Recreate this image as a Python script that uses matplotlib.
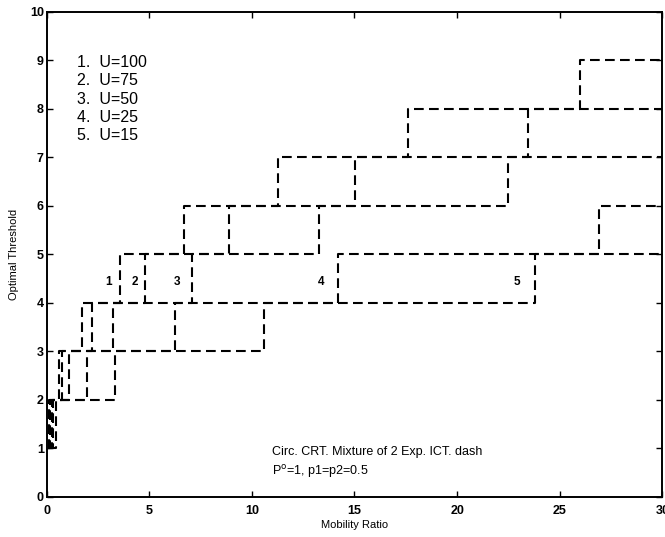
"""Optimal threshold vs mobility ratio, step curves for several U values."""

import matplotlib

matplotlib.use("Agg")

import matplotlib.pyplot as plt

plt.rcParams["font.family"] = ["Liberation Sans", "DejaVu Sans"]
plt.rcParams["lines.scale_dashes"] = False

# mobility ratio where each curve steps up by one threshold level (starts at level 1)
steps_u100 = [0.12, 0.6, 1.72, 3.6, 6.7, 11.3, 17.6, 26.0]
steps_u75 = [0.17, 0.75, 2.2, 4.8, 8.9, 15.05, 23.45]
steps_u50 = [0.25, 1.1, 3.23, 7.1, 13.25, 22.5]
steps_u25 = [0.33, 1.95, 6.27, 14.2, 26.9]
steps_u15 = [0.45, 3.35, 10.6, 23.8]
x_start = 0.08
x_end = 30.0
start_level = 1

legend_lines = ["1.  U=100", "2.  U=75", "3.  U=50", "4.  U=25", "5.  U=15"]
curve_labels = ["1", "2", "3", "4", "5"]
curve_label_x = [3.0, 4.28, 6.35, 13.4, 22.9]
curve_label_y = 4.43

fig = plt.figure(figsize=(6.65, 5.37), dpi=100)
ax = fig.add_axes([0.07, 0.075, 0.926, 0.903])

for steps in [steps_u100, steps_u75, steps_u50, steps_u25, steps_u15]:
    x = [x_start] + steps + [x_end]
    y = [start_level + i for i in range(len(steps) + 1)]
    y = y + [y[-1]]
    ax.step(x, y, where="post", color="black", linewidth=1.5, dashes=(7, 3.8))

for label, lx in zip(curve_labels, curve_label_x):
    ax.text(lx, curve_label_y, label, fontsize=8.5, fontweight="bold", ha="center", va="center")

for i, line in enumerate(legend_lines):
    ax.text(1.5, 8.96 - i * 0.38, line, fontsize=11.5, ha="left", va="center")

ax.text(11.0, 0.93, "Circ. CRT. Mixture of 2 Exp. ICT. dash", fontsize=9, ha="left", va="center")
ax.text(11.0, 0.52, r"P$^{\mathrm{o}}$=1, p1=p2=0.5", fontsize=9, ha="left", va="center")

ax.set_xlim(0, 30)
ax.set_ylim(0, 10)
ax.set_xticks(range(0, 31, 5))
ax.set_yticks(range(0, 11))
ax.tick_params(direction="in", top=True, right=True, length=4, width=1.0, labelsize=9, pad=2)
ax.tick_params(axis="x", pad=6)
for tick_label in ax.get_xticklabels() + ax.get_yticklabels():
    tick_label.set_fontweight("bold")
for spine in ax.spines.values():
    spine.set_linewidth(1.4)

ax.set_xlabel("Mobility Ratio", fontsize=8, labelpad=2)
ax.set_ylabel("Optimal Threshold", fontsize=8, labelpad=8)

fig.savefig("out.png", dpi=100)
